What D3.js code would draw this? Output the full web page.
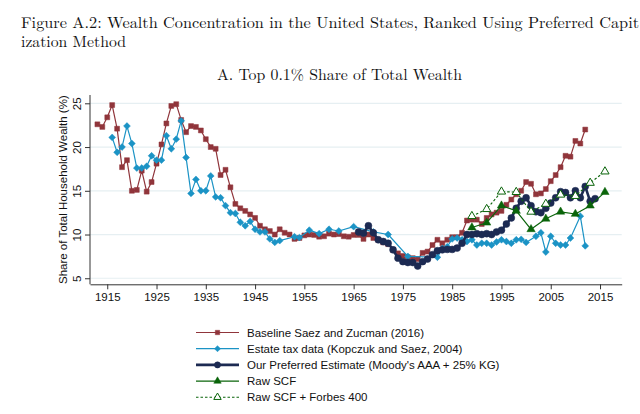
<!DOCTYPE html>
<html>
<head>
<meta charset="utf-8">
<script src="https://cdn.jsdelivr.net/npm/d3@7"></script>
<style>
  body { margin: 0; background: #fff; }
  svg { display: block; overflow: hidden; }
</style>
</head>
<body>
<div id="chart"></div>
<script>
// Baseline Saez and Zucman (2016), annual from 1913
const szStart = 1913;
const szShare = [
  22.6, 22.3, 23.4, 24.8, 22.1, 17.7, 18.5, 15.0, 15.1, 17.3,
  14.9, 16.0, 18.1, 20.3, 22.7, 24.7, 24.9, 23.1, 21.7, 22.4,
  22.3, 21.9, 20.9, 20.0, 19.8, 16.8, 17.4, 15.4, 13.5, 13.0,
  12.7, 12.3, 11.9, 11.0, 10.6, 10.4, 10.0, 10.6, 10.2, 10.0,
  9.5, 9.6, 9.9, 10.0, 9.95, 9.75, 9.8, 10.1, 10.0, 10.05,
  9.8, 9.75, 9.95, 9.95, 9.5, 10.0, 9.6, 9.4, 9.1, 8.9,
  8.25, 7.85, 7.55, 7.4, 7.3, 7.2, 7.9, 8.05, 8.8, 9.4,
  9.0, 9.4, 9.7, 9.7, 10.2, 11.6, 11.7, 11.7, 11.2, 11.9,
  12.3, 12.5, 12.7, 13.4, 14.0, 14.6, 15.0, 16.0, 15.8, 14.6,
  14.7, 15.2, 16.1, 16.8, 17.7, 19.0, 18.9, 20.7, 20.4, 22.0
];

// Estate tax data (Kopczuk and Saez, 2004)
const estateYears = [
  1916, 1917, 1918, 1919, 1920, 1921, 1922, 1923, 1924, 1925,
  1926, 1927, 1928, 1929, 1930, 1931, 1932, 1933, 1934, 1935,
  1936, 1937, 1938, 1939, 1940, 1941, 1942, 1943, 1944, 1945,
  1946, 1947, 1948, 1949, 1950, 1953, 1954, 1956, 1958, 1960,
  1962, 1965, 1969, 1972, 1976, 1982, 1983, 1984, 1985, 1986,
  1987, 1988, 1989, 1990, 1991, 1992, 1993, 1994, 1995, 1996,
  1997, 1998, 1999, 2000, 2002, 2003, 2004, 2005, 2006, 2007,
  2008, 2009, 2011, 2012
];
const estateShare = [
  21.1, 19.4, 20.0, 22.4, 20.4, 17.6, 17.6, 17.8, 19.0, 18.5,
  18.5, 21.3, 19.8, 20.9, 23.0, 18.8, 14.7, 16.3, 15.0, 15.0,
  16.7, 14.3, 14.2, 13.3, 12.5, 12.4, 11.4, 11.0, 11.5, 10.6,
  10.3, 10.3, 9.5, 9.1, 9.3, 9.75, 9.65, 10.5, 10.1, 10.6,
  10.4, 10.9, 10.3, 10.0, 7.5, 7.4, 8.4, 8.6, 9.5, 9.6,
  9.4, 9.2, 9.4, 8.8, 9.0, 9.0, 8.8, 9.15, 9.4, 9.2,
  9.0, 9.4, 9.45, 9.1, 9.8, 10.2, 8.0, 9.8, 9.0, 8.8,
  8.8, 9.6, 12.1, 8.7
];

// Our Preferred Estimate, annual from 1966
const prefStart = 1966;
const prefShare = [
  10.3, 10.15, 11.0, 10.2, 9.4, 9.2, 9.0, 8.25, 7.3, 6.9,
  6.8, 6.8, 6.4, 6.9, 7.2, 7.7, 8.15, 8.25, 8.3, 8.3,
  8.45, 9.0, 10.0, 10.0, 10.1, 10.0, 10.1, 10.0, 10.3, 10.5,
  11.2, 11.9, 13.0, 13.8, 14.2, 13.3, 12.6, 12.5, 13.0, 13.6,
  14.2, 14.9, 14.8, 14.2, 15.0, 14.2, 15.5, 13.8, 14.1
];

// Survey of Consumer Finances waves
const scfYears = [1989, 1992, 1995, 1998, 2001, 2004, 2007, 2010, 2013, 2016];
const scfShare = [10.8, 11.35, 13.3, 12.7, 10.6, 11.8, 12.6, 12.35, 13.3, 14.85];
const scfForbesShare = [12.1, 12.9, 14.9, 14.85, 12.6, 13.5, 14.55, 14.4, 15.9, 17.2];

const yearTicks = [1915, 1925, 1935, 1945, 1955, 1965, 1975, 1985, 1995, 2005, 2015];
const shareTicks = [5, 10, 15, 20, 25];

const legendLabels = [
  "Baseline Saez and Zucman (2016)",
  "Estate tax data (Kopczuk and Saez, 2004)",
  "Our Preferred Estimate (Moody's AAA + 25% KG)",
  "Raw SCF",
  "Raw SCF + Forbes 400"
];

const W = 640, H = 414;
const serif = "'Latin Modern Roman', 'CMU Serif', 'Liberation Serif', serif";
const sans = "'Liberation Sans', Arial, Helvetica, sans-serif";

const COLORS = {
  red: "#90353b",
  blue: "#1b93c5",
  navy: "#1c2a52",
  green: "#0a640a"
};

const svg = d3.select("#chart").append("svg")
  .attr("width", W)
  .attr("height", H)
  .style("background", "#fff");

// titles
svg.append("text")
  .attr("x", 21).attr("y", 28)
  .attr("textLength", 618).attr("lengthAdjust", "spacingAndGlyphs")
  .style("font-family", serif).style("font-size", "15.5px").attr("fill", "#111")
  .text("Figure A.2: Wealth Concentration in the United States, Ranked Using Preferred Capit");

svg.append("text")
  .attr("x", 21).attr("y", 47)
  .attr("textLength", 105).attr("lengthAdjust", "spacingAndGlyphs")
  .style("font-family", serif).style("font-size", "15.5px").attr("fill", "#111")
  .text("ization Method");

svg.append("text")
  .attr("x", 217).attr("y", 80)
  .attr("textLength", 245).attr("lengthAdjust", "spacingAndGlyphs")
  .style("font-family", serif).style("font-size", "15.5px").attr("fill", "#111")
  .text("A. Top 0.1% Share of Total Wealth");

// scales
const x = d3.scaleLinear().domain([1911.5, 2019.4]).range([90, 621.7]);
const y = d3.scaleLinear().domain([4.31, 25.95]).range([284.3, 95]);

// gridlines
svg.append("g")
  .selectAll("line")
  .data(shareTicks)
  .enter()
  .append("line")
  .attr("x1", x.range()[0]).attr("x2", x.range()[1])
  .attr("y1", d => y(d)).attr("y2", d => y(d))
  .attr("stroke", "#e6eff2")
  .attr("stroke-width", 1.2);

// axes
const xAxis = d3.axisBottom(x)
  .tickValues(yearTicks)
  .tickFormat(d3.format("d"))
  .tickSize(5)
  .tickSizeOuter(0)
  .tickPadding(4);

const yAxis = d3.axisLeft(y)
  .tickValues(shareTicks)
  .tickFormat(d3.format("d"))
  .tickSize(5)
  .tickSizeOuter(0);

const gx = svg.append("g")
  .attr("transform", `translate(0,${y.range()[0]})`)
  .call(xAxis);
gx.select(".domain").attr("stroke", "#333");
gx.selectAll(".tick line").attr("stroke", "#333");
gx.selectAll("text")
  .style("font-family", sans).style("font-size", "11.5px").attr("fill", "#111");

const gy = svg.append("g")
  .attr("transform", `translate(${x.range()[0]},0)`)
  .call(yAxis);
gy.select(".domain").attr("stroke", "#333").attr("d", `M0,${y.range()[0]}V${y.range()[1]}`);
gy.selectAll(".tick line").attr("stroke", "#333");
gy.selectAll("text")
  .attr("transform", "rotate(-90)")
  .attr("x", 0).attr("y", -9).attr("dy", 0)
  .style("text-anchor", "middle")
  .style("font-family", sans).style("font-size", "11.5px").attr("fill", "#111");

svg.append("text")
  .attr("transform", `translate(67,${(y(4.31) + y(25.95)) / 2}) rotate(-90)`)
  .style("text-anchor", "middle")
  .style("font-family", sans).style("font-size", "11.5px").attr("fill", "#111")
  .text("Share of Total Household Wealth (%)");

// series
const szData = szShare.map((v, i) => ({ year: szStart + i, value: v }));
const estateData = estateYears.map((yr, i) => ({ year: yr, value: estateShare[i] }));
const prefData = prefShare.map((v, i) => ({ year: prefStart + i, value: v }));
const scfData = scfYears.map((yr, i) => ({ year: yr, value: scfShare[i] }));
const forbesData = scfYears.map((yr, i) => ({ year: yr, value: scfForbesShare[i] }));

const series = [
  { data: szData, color: COLORS.red, width: 1.2, dash: null, marker: "square", size: 24, fill: COLORS.red },
  { data: estateData, color: COLORS.blue, width: 1.2, dash: null, marker: "diamond", size: 30, fill: COLORS.blue },
  { data: prefData, color: COLORS.navy, width: 2.6, dash: null, marker: "circle", size: 38, fill: COLORS.navy },
  { data: scfData, color: COLORS.green, width: 1.2, dash: null, marker: "triangle", size: 30, fill: COLORS.green },
  { data: forbesData, color: COLORS.green, width: 1.1, dash: "2.5,2", marker: "triangle", size: 30, fill: "#fff" }
];

const symbolTypes = {
  square: d3.symbolSquare,
  diamond: d3.symbolDiamond2,
  circle: d3.symbolCircle,
  triangle: d3.symbolTriangle
};

const line = d3.line()
  .x(d => x(d.year))
  .y(d => y(d.value));

series.forEach(s => {
  const g = svg.append("g");
  g.append("path")
    .datum(s.data)
    .attr("d", line)
    .attr("fill", "none")
    .attr("stroke", s.color)
    .attr("stroke-width", s.width)
    .attr("stroke-linejoin", "round")
    .attr("stroke-dasharray", s.dash);

  const sym = d3.symbol().type(symbolTypes[s.marker]).size(s.size);
  g.selectAll("path.mark")
    .data(s.data)
    .enter()
    .append("path")
    .attr("class", "mark")
    .attr("d", sym)
    .attr("transform", d => `translate(${x(d.year)},${y(d.value)})`)
    .attr("fill", s.fill)
    .attr("stroke", s.color)
    .attr("stroke-width", s.fill === "#fff" ? 1 : 0.5);
});

// legend
const legend = svg.append("g")
  .attr("class", "legend")
  .attr("transform", "translate(196,332.5)");

const legendItems = legend.selectAll(".legend-item")
  .data(series)
  .enter()
  .append("g")
  .attr("class", "legend-item")
  .attr("transform", (d, i) => `translate(0,${i * 16.2})`);

legendItems.append("line")
  .attr("x1", 0).attr("x2", 43)
  .attr("y1", 0).attr("y2", 0)
  .attr("stroke", d => d.color)
  .attr("stroke-width", d => d.width)
  .attr("stroke-dasharray", d => d.dash);

legendItems.append("path")
  .attr("d", d => d3.symbol().type(symbolTypes[d.marker]).size(d.size * 0.8)())
  .attr("transform", "translate(21.5,0)")
  .attr("fill", d => d.fill)
  .attr("stroke", d => d.color)
  .attr("stroke-width", d => d.fill === "#fff" ? 1 : 0.5);

legendItems.append("text")
  .attr("x", 51)
  .attr("y", 0)
  .attr("dy", "0.35em")
  .style("font-family", sans)
  .style("font-size", "11.5px")
  .attr("fill", "#111")
  .text((d, i) => legendLabels[i]);
</script>
</body>
</html>
